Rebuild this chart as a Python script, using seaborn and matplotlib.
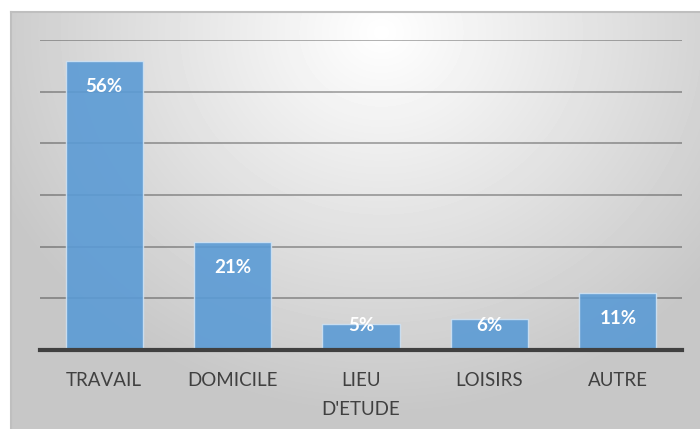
import numpy as np
import pandas as pd
import matplotlib
matplotlib.use("Agg")
import matplotlib.pyplot as plt
import seaborn as sns

categories = ["TRAVAIL", "DOMICILE", "LIEU\nD'ETUDE", "LOISIRS", "AUTRE"]
values = [56, 21, 5, 6, 11]
labels = ["56%", "21%", "5%", "6%", "11%"]

df = pd.DataFrame({"cat": categories, "val": values})

sns.set_theme(style="white")
plt.rcParams['font.family'] = ['Lato', 'DejaVu Sans']

fig = plt.figure(figsize=(7, 4.29), dpi=100)
W, H = 700, 429

# chart area background (radial gray gradient)
bg = fig.add_axes([11 / W, 0, (W - 11) / W, (H - 12) / H])
yy, xx = np.mgrid[0:417, 0:689]
r = np.hypot((xx - 370) / 420.0, (yy - 20) / 380.0)
shade = 1.0 - 0.22 * np.clip(r, 0, 1)
bg.imshow(shade, cmap="gray", vmin=0, vmax=1, aspect="auto", interpolation="bilinear")
bg.set_xticks([])
bg.set_yticks([])
for s in ["right", "bottom"]:
    bg.spines[s].set_visible(False)
for s in ["top", "left"]:
    bg.spines[s].set_color("#bfbfbf")
    bg.spines[s].set_linewidth(1.5)

ax = fig.add_axes([40 / W, (H - 350) / H, 642 / W, 310 / H])
ax.set_facecolor("none")

sns.barplot(data=df, x="cat", y="val", color="#5b9bd5", saturation=1, alpha=0.9,
            width=0.6, edgecolor="#cfe2f3", linewidth=1.0, ax=ax, zorder=3)

ax.set_ylim(0, 60)
ax.set_yticks(np.arange(10, 61, 10))
ax.yaxis.grid(True, color="black", alpha=0.3, linewidth=1.4, zorder=1)
ax.xaxis.grid(False)
ax.set_axisbelow(True)
ax.tick_params(axis="y", left=False, labelleft=False)
ax.tick_params(axis="x", bottom=False, labelsize=13.5, labelcolor="#404040", pad=10)
ax.set_xlabel("")
ax.set_ylabel("")
for s in ["top", "right", "left"]:
    ax.spines[s].set_visible(False)
ax.spines["bottom"].set_color("#404040")
ax.spines["bottom"].set_linewidth(3)
ax.spines["bottom"].set_zorder(5)
for t in ax.get_xticklabels():
    t.set_linespacing(1.85)
    t.set_verticalalignment("top")

for i, (v, lab) in enumerate(zip(values, labels)):
    ax.text(i, max(v - 5, 4.7), lab, ha="center", va="center", color="white",
            fontsize=13.5, fontweight="bold", zorder=6)

fig.savefig("out.png", dpi=100, facecolor="white")
